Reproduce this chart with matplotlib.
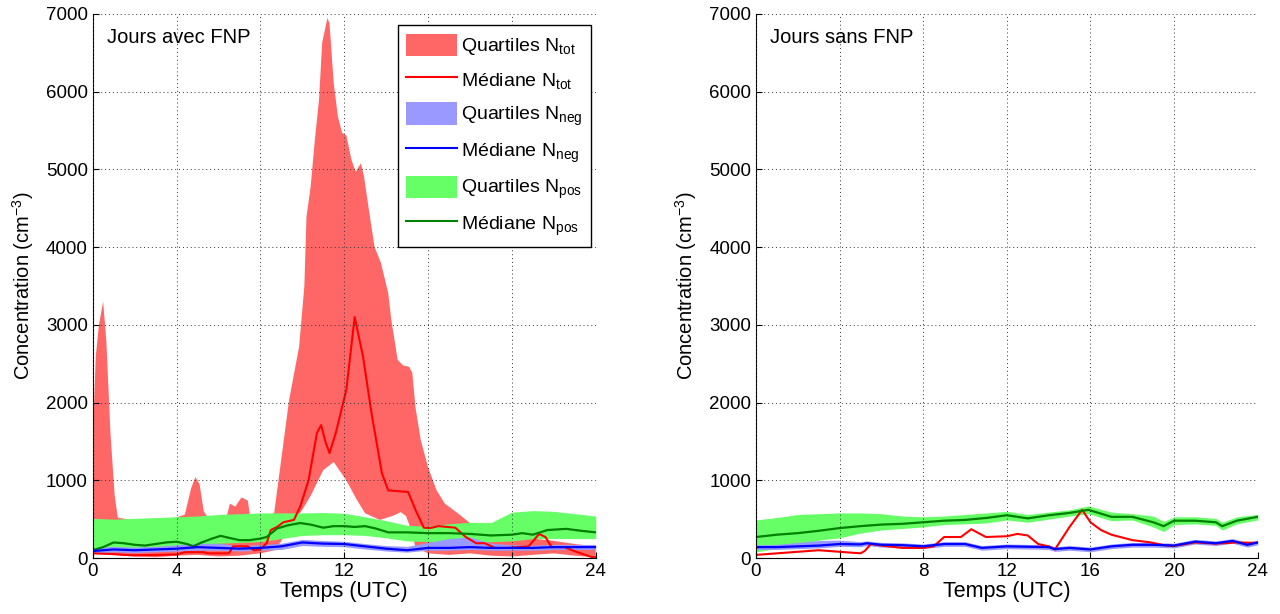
import numpy as np
import matplotlib.pyplot as plt
from matplotlib.patches import Patch
from matplotlib.lines import Line2D

plt.rcParams['font.family'] = ['Liberation Sans', 'DejaVu Sans']
plt.rcParams['mathtext.fontset'] = 'custom'
plt.rcParams['mathtext.rm'] = 'Liberation Sans'
plt.rcParams['mathtext.it'] = 'Liberation Sans:italic'

# ---------- Jours avec FNP ----------
# quartiles N_tot (upper / lower edges, own time grids)
tot_q3_t = [0, 0.15, 0.3, 0.5, 0.65, 0.85, 1.05, 1.2, 2, 3, 4.0, 4.4, 4.7, 4.9, 5.1, 5.3, 5.5,
            6.4, 6.55, 6.8, 7.1, 7.4, 7.5, 8.5, 8.66, 9.37, 9.85, 10.1, 10.2, 10.4, 10.6, 10.8,
            10.95, 11.2, 11.3, 11.5, 11.7, 11.9, 12.1, 12.35, 12.55, 12.8, 12.95, 13.2, 13.45,
            13.75, 14.1, 14.25, 14.55, 14.8, 15.1, 15.25, 15.4, 15.65, 16.0, 16.4, 16.8, 17.4,
            18.0, 19, 20, 21, 22, 23, 24]
tot_q3 = [1500, 2600, 3000, 3300, 2800, 1600, 800, 520, 480, 480, 520, 560, 900, 1040, 950, 600, 520,
          540, 700, 660, 780, 740, 560, 560, 580, 2030, 2720, 3500, 4390, 4780, 5380, 5900,
          6630, 6950, 6880, 6110, 5680, 5470, 5440, 5120, 4970, 5080, 4900, 4440, 4000,
          3800, 3410, 3060, 2550, 2480, 2460, 2380, 1940, 1520, 1170, 875, 700, 580,
          450, 350, 280, 250, 220, 180, 150]
tot_q1_t = [0, 1, 2, 3, 4, 5, 6, 7, 8, 8.7, 9.2, 9.6, 10.0, 10.4, 11.0, 11.5, 12.1, 12.6, 13.0,
            13.7, 14.3, 14.7, 14.95, 15.2, 15.4, 16, 17, 18, 19, 20, 21, 22, 23, 24]
tot_q1 = [60, 40, 20, 10, 30, 40, 20, 30, 60, 100, 300, 480, 620, 800, 1130, 1235, 1000, 750, 575,
          490, 540, 590, 540, 360, 140, 60, 40, 60, 30, 20, 40, 60, 30, 10]
tot_med_t = [0, 1, 1.5, 2, 3, 4, 4.4, 5.3, 5.5, 6.5, 6.7, 7.4, 7.7, 8.0, 8.3, 8.5, 8.8, 9.1, 9.6,
             9.9, 10.3, 10.7, 10.9, 11.1, 11.3, 11.6, 12.1, 12.5, 12.9, 13.3, 13.8, 14.1, 15.05,
             15.4, 15.8, 16.1, 16.5, 17.3, 17.8, 18.3, 18.7, 19.2, 19.8, 20.3, 20.8, 21.3, 21.6,
             21.9, 22.5, 23.1, 23.8, 24]
tot_med = [60, 50, 40, 35, 40, 45, 75, 75, 60, 60, 150, 150, 100, 110, 190, 360, 400, 460, 490,
           660, 1000, 1610, 1710, 1500, 1350, 1610, 2160, 3100, 2590, 1870, 1090, 870, 850,
           620, 390, 385, 410, 390, 270, 190, 190, 130, 130, 140, 150, 310, 270,
           140, 140, 77, 13, 10]

hours = [0, 1, 2, 3, 4, 5, 6, 7, 8, 9, 10, 11, 12, 13, 14, 15, 16, 17, 18, 19, 20, 21, 22, 23, 24]
neg_med_a = [90, 110, 100, 110, 120, 140, 130, 120, 130, 150, 200, 185, 180, 150, 120, 100, 130,
             130, 140, 130, 130, 130, 140, 140, 140]
neg_q3_a = [130, 150, 140, 150, 170, 190, 190, 160, 170, 190, 240, 225, 215, 185, 160, 150, 200,
            250, 270, 190, 170, 165, 175, 175, 175]
neg_q1_a = [60, 80, 70, 80, 90, 100, 100, 90, 100, 110, 160, 150, 145, 115, 90, 75, 100,
            100, 110, 100, 100, 100, 110, 110, 110]

pos_med_t = [0, 0.5, 1, 1.5, 2, 2.5, 3, 3.5, 4, 4.5, 4.8, 5.2, 5.7, 6.1, 6.5, 7, 7.5, 8, 8.3, 8.8,
             9.3, 9.9, 10.4, 11, 11.5, 12, 12.5, 13, 13.5, 14.1, 14.6, 15, 16, 17, 18, 19, 20,
             20.5, 21, 21.7, 22.6, 23.3, 24]
pos_med_a = [100, 140, 200, 190, 170, 160, 180, 200, 210, 180, 150, 200, 250, 285, 260, 230, 230,
             250, 270, 380, 420, 450, 430, 390, 410, 410, 400, 410, 380, 330, 330, 330, 320, 320,
             310, 290, 300, 320, 300, 360, 375, 350, 330]
pos_q3_a = [510, 500, 510, 520, 530, 540, 560, 570, 580, 580, 580, 585, 575, 530, 480, 420, 410,
            440, 460, 455, 590, 610, 600, 570, 540]
pos_q1_a = [100, 115, 130, 145, 160, 175, 190, 200, 210, 250, 290, 300, 300, 290, 260, 220, 210,
            210, 210, 210, 220, 250, 250, 250, 250]

# ---------- Jours sans FNP ----------
pos_t_b = [0, 1, 2, 3, 4, 5, 6, 7, 8, 9, 10, 11, 12, 13, 14, 15, 15.9, 17, 18, 19, 19.5, 20, 21,
           22, 22.3, 23, 24]
pos_med_b = [270, 300, 320, 350, 385, 410, 430, 440, 460, 480, 490, 515, 550, 510, 550, 580, 620,
             530, 530, 460, 410, 480, 480, 460, 410, 480, 530]
pos_q3_b = [490, 520, 560, 570, 580, 580, 570, 540, 530, 540, 560, 580, 600, 560, 590, 620, 670,
            590, 570, 540, 470, 530, 530, 510, 460, 530, 560]
pos_q1_b = [80, 120, 170, 230, 260, 320, 360, 380, 400, 430, 440, 450, 490, 460, 500, 540, 570,
            480, 490, 400, 340, 430, 440, 420, 360, 440, 490]

neg_t_b = [0, 1, 2, 3, 4, 5, 5.3, 6, 7, 8, 9, 10, 10.8, 12, 13, 14, 14.3, 15, 16, 17, 18, 19, 20,
           21, 22, 22.8, 23.5, 24]
neg_med_b = [140, 140, 150, 160, 180, 175, 190, 170, 165, 150, 180, 180, 130, 150, 145, 140, 115,
             130, 110, 150, 170, 170, 160, 210, 190, 220, 170, 200]
neg_q3_b = [170, 175, 200, 225, 230, 210, 220, 200, 195, 180, 210, 210, 160, 180, 175, 170, 145,
            160, 140, 180, 200, 200, 190, 240, 220, 250, 200, 230]
neg_q1_b = [110, 110, 120, 130, 150, 145, 160, 140, 135, 120, 150, 150, 100, 120, 115, 110, 85,
            100, 80, 120, 140, 140, 130, 180, 160, 190, 140, 170]

tot_med_t_b = [0, 1, 2, 3, 4, 5, 5.2, 5.5, 6, 7, 8, 8.5, 9, 9.8, 10.3, 11, 12, 12.5, 13, 13.5, 14,
               14.3, 15, 15.6, 16, 16.5, 17, 18, 18.9, 19.5, 20, 21, 22, 23, 24]
tot_med_b = [40, 60, 80, 100, 80, 60, 90, 180, 160, 130, 130, 150, 270, 270, 370, 270, 280, 310,
             290, 180, 150, 110, 400, 620, 460, 360, 300, 230, 200, 165, 155, 200, 185, 200, 195]

RED_FILL = '#ff6666'
BLUE_FILL = '#9999ff'
GREEN_FILL = '#66ff66'
DARK_GREEN = '#008000'

fig = plt.figure(figsize=(12.8, 6.14), dpi=100)
ax1 = fig.add_axes([0.0724, 0.0912, 0.393, 0.886])
ax2 = fig.add_axes([0.5906, 0.0912, 0.392, 0.886])

# left panel
ax1.fill(np.r_[tot_q3_t, tot_q1_t[::-1]], np.r_[tot_q3, tot_q1[::-1]],
         color=RED_FILL, lw=0)
ax1.fill_between(hours, pos_q1_a, pos_q3_a, color=GREEN_FILL, lw=0)
ax1.fill_between(hours, neg_q1_a, neg_q3_a, color=BLUE_FILL, lw=0)
ax1.plot(tot_med_t, tot_med, color='red', lw=1.5)
ax1.plot(pos_med_t, pos_med_a, color=DARK_GREEN, lw=1.6)
ax1.plot(hours, neg_med_a, color='blue', lw=1.6)

# right panel
ax2.fill_between(pos_t_b, pos_q1_b, pos_q3_b, color=GREEN_FILL, lw=0)
ax2.fill_between(neg_t_b, neg_q1_b, neg_q3_b, color=BLUE_FILL, lw=0)
ax2.plot(tot_med_t_b, tot_med_b, color='red', lw=1.5)
ax2.plot(pos_t_b, pos_med_b, color=DARK_GREEN, lw=1.6)
ax2.plot(neg_t_b, neg_med_b, color='blue', lw=1.6)

for ax, title in [(ax1, 'Jours avec FNP'), (ax2, 'Jours sans FNP')]:
    ax.set_xlim(0, 24)
    ax.set_ylim(0, 7000)
    ax.set_xticks(range(0, 25, 4))
    ax.set_yticks(range(0, 7001, 1000))
    ax.grid(True, color='#333333', linestyle=(0, (1, 3)), linewidth=0.7)
    ax.set_axisbelow(False)
    ax.spines['top'].set_visible(False)
    ax.spines['right'].set_visible(False)
    ax.tick_params(direction='in', length=4, labelsize=13.5, top=False, right=False)
    ax.set_xlabel('Temps (UTC)', fontsize=15.5, labelpad=1)
    ax.set_ylabel('Concentration (cm$^{-3}$)', fontsize=14.5, labelpad=7)
    ax.text(0.028, 0.975, title, transform=ax.transAxes, va='top', ha='left', fontsize=14.5)

handles = [Patch(facecolor=RED_FILL, edgecolor='none'),
           Line2D([], [], color='red', lw=1.5),
           Patch(facecolor=BLUE_FILL, edgecolor='none'),
           Line2D([], [], color='blue', lw=1.5),
           Patch(facecolor=GREEN_FILL, edgecolor='none'),
           Line2D([], [], color=DARK_GREEN, lw=1.5)]
labels = [r'Quartiles N$_{\mathrm{tot}}$', r'Médiane N$_{\mathrm{tot}}$',
          r'Quartiles N$_{\mathrm{neg}}$', r'Médiane N$_{\mathrm{neg}}$',
          r'Quartiles N$_{\mathrm{pos}}$', r'Médiane N$_{\mathrm{pos}}$']
leg = ax1.legend(handles, labels, loc='upper right', bbox_to_anchor=(0.991, 0.98),
                 borderaxespad=0, fontsize=14, handlelength=2.6, handleheight=1.4,
                 handletextpad=0.2, labelspacing=0.57, borderpad=0.45,
                 fancybox=False, framealpha=1, edgecolor='black')
leg.get_frame().set_linewidth(1.0)

fig.savefig('out.png', dpi=100)
